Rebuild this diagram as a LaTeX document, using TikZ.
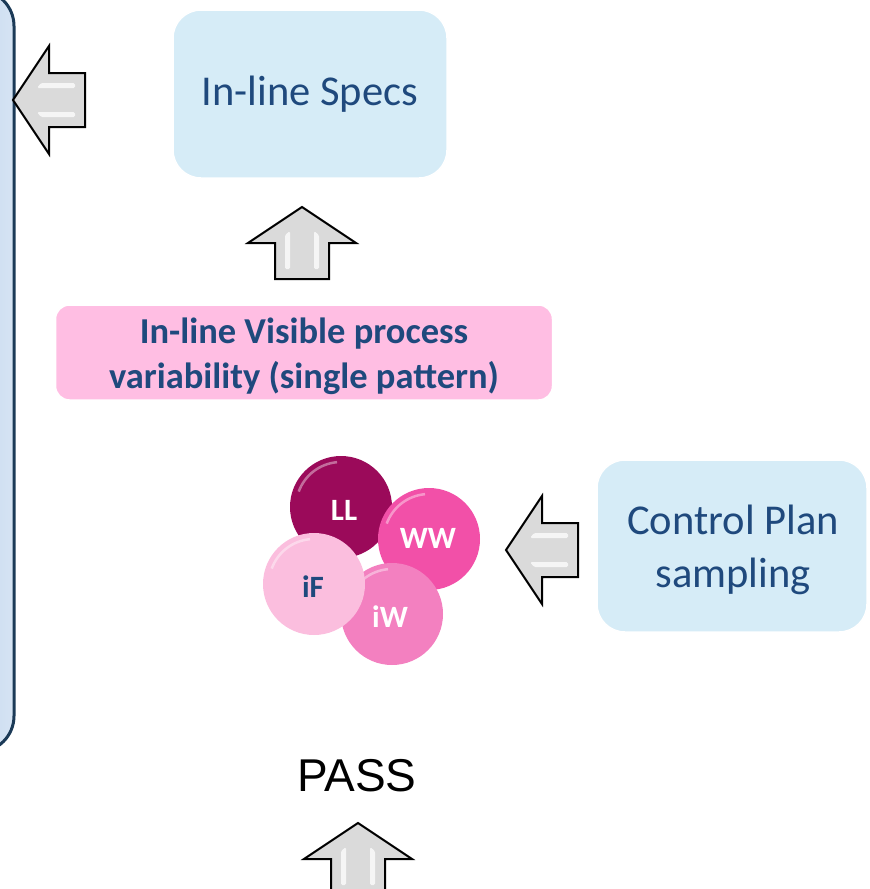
\documentclass[tikz,border=0pt]{standalone}
\usepackage{fontspec}
\setmainfont{Carlito}
\newfontfamily\passfont{Liberation Sans}
\definecolor{navytext}{RGB}{31,73,125}
\definecolor{specfill}{RGB}{214,236,247}
\definecolor{pinkfill}{RGB}{255,190,227}
\definecolor{panelline}{RGB}{27,58,87}
\definecolor{panelfill}{RGB}{180,205,234}
\definecolor{llcol}{RGB}{155,10,90}
\definecolor{wwcol}{RGB}{242,80,168}
\definecolor{iwcol}{RGB}{243,128,192}
\definecolor{ifcol}{RGB}{251,190,222}
\definecolor{arrowgray}{RGB}{218,218,218}
\tikzset{
  arrowbody/.style={fill=arrowgray, draw=black, line width=2, line join=miter},
  blockarrow/.pic={
    \draw[arrowbody] (0,0) -- (54,36) -- (27,36) -- (27,72) -- (-27,72) -- (-27,36) -- (-54,36) -- cycle;
    \fill[white, opacity=.75, rounded corners=1.5] (-17,28) -- (-12,24) -- (-12,62) -- (-17,62) -- cycle;
    \fill[white, opacity=.75, rounded corners=1.5] (12,24) -- (17,28) -- (17,62) -- (12,62) -- cycle;
  },
  textbox/.style={rounded corners=28, draw=white, line width=1.5, align=center,
    text=navytext, inner sep=0pt},
  specbox/.style={textbox, fill=specfill, font=\fontsize{42.5}{53}\selectfont},
  pinkbox/.style={textbox, fill=pinkfill, rounded corners=14,
    font=\bfseries\fontsize{36.5}{45}\selectfont},
  plaintext/.style={draw=none, fill=none},
  ball/.style={circle, minimum size=102, inner sep=0pt,
    path picture={\draw[white, opacity=.4, line width=2.5]
      (path picture bounding box.center) ++(160:45pt) arc[start angle=160, end angle=95, radius=45pt];}},
  balltext/.style={font=\bfseries\fontsize{31}{32}\selectfont, text=white},
}
\begin{document}
\begin{tikzpicture}[x=1pt,y=-1pt]
\useasboundingbox (0,0) rectangle (870,889);
\clip (0,0) rectangle (870,889);

% process panel on the left edge
\draw[panelline, line width=3, left color=panelfill, right color=panelfill!55, rounded corners=36]
  (-80,-10) rectangle (14,752);

% boxes
\node[specbox, minimum width=274, minimum height=168] (specs) at (310,94) {In-line Specs};
\node[pinkbox, minimum width=497, minimum height=95] (visible) at (304,352.5) {};
\node[pinkbox, plaintext] (visibletext) at (304,356.5)
  {In-line Visible process\\variability (single pattern)};
\node[specbox, minimum width=270, minimum height=172] (plan) at (732,546) {};
\node[specbox, plaintext] (plantext) at (733,550) {Control Plan\\sampling};

% defect spheres
\node[ball, fill=llcol] (ll) at (341,507) {};
\node[ball, fill=wwcol] (ww) at (429,539) {};
\node[ball, fill=iwcol] (iw) at (392,614) {};
\node[ball, fill=ifcol] (if) at (314,584) {};
\node[balltext] (lltext) at (344,510) {LL};
\node[balltext] (wwtext) at (428,538) {WW};
\node[balltext, text=navytext] (iftext) at (313,587) {iF};
\node[balltext] (iwtext) at (390,617) {iW};

% PASS label
\node[font=\passfont\fontsize{46}{50}\selectfont] (pass) at (357,776) {PASS};

% block arrows
\pic[rotate=90] at (13,100) {blockarrow};
\pic at (302,207) {blockarrow};
\pic[rotate=90] at (506,550) {blockarrow};
\pic at (358,823) {blockarrow};
\end{tikzpicture}
\end{document}
